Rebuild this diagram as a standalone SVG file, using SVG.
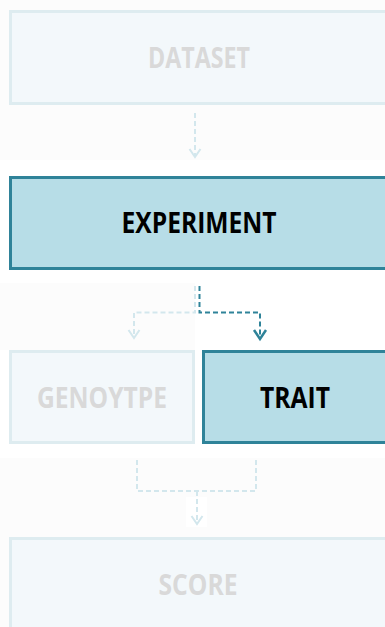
<svg xmlns="http://www.w3.org/2000/svg" width="385" height="627" viewBox="0 0 385 627">
  <defs>
    <style>
      .lbl { font-family: "Open Sans", Lato, "Liberation Sans", sans-serif; font-weight: 700; font-size: 28px; text-anchor: middle; }
      .box-dim { fill: #f3f8fb; stroke: #deecf0; stroke-width: 3; }
      .box-on { fill: #b7dde7; stroke: #2f8399; stroke-width: 3; }
      .txt-dim { fill: #d9d9d9; }
      .txt-on { fill: #000000; }
      .wire-dim { fill: none; stroke: #d3e7ed; stroke-width: 2; stroke-dasharray: 5 3; }
      .wire-on { fill: none; stroke: #2f8399; stroke-width: 2; stroke-dasharray: 5 3; }
      .head-dim { fill: none; stroke: #d3e7ed; stroke-width: 2; }
      .head-on { fill: none; stroke: #2f8399; stroke-width: 2.5; }
      .haze { fill: #fcfcfc; }
    </style>
  </defs>

  <!-- page and faded backdrop bands -->
  <rect x="0" y="0" width="385" height="627" fill="#ffffff"/>
  <rect class="haze" x="0" y="0" width="385" height="160"/>
  <rect class="haze" x="0" y="283" width="195" height="67"/>
  <rect class="haze" x="0" y="458" width="385" height="169"/>
  <rect x="186" y="497" width="21" height="30" fill="#ffffff"/>

  <!-- connectors -->
  <g id="connectors">
    <!-- dataset -> experiment -->
    <path class="wire-dim" d="M195 113 V156"/>
    <path class="head-dim" d="M189.5 149 L195 157 L200.5 149"/>
    <!-- experiment -> genotype -->
    <path class="wire-dim" d="M195 286 V312.5 H134 V337"/>
    <path class="head-dim" d="M128.5 330 L134 338 L139.5 330"/>
    <!-- experiment -> trait -->
    <path class="wire-on" d="M199.5 286 V312.5 H260 V337"/>
    <path class="head-on" d="M254 330 L260 339 L266 330"/>
    <!-- genotype + trait -> score -->
    <path class="wire-dim" d="M137 460 V491 H256 V460"/>
    <path class="wire-dim" d="M197 491 V523"/>
    <path class="head-dim" d="M191.5 516 L197 524 L202.5 516"/>
  </g>

  <g id="dataset">
    <rect class="box-dim" x="10.5" y="11.5" width="390" height="92"/>
    <text class="lbl txt-dim" x="199" y="68" textLength="102" lengthAdjust="spacingAndGlyphs">DATASET</text>
  </g>

  <g id="experiment">
    <rect class="box-on" x="10.5" y="177.5" width="390" height="91"/>
    <text class="lbl txt-on" x="199" y="233" textLength="155" lengthAdjust="spacingAndGlyphs">EXPERIMENT</text>
  </g>

  <g id="genotype">
    <rect class="box-dim" x="10.5" y="351.5" width="183" height="91"/>
    <text class="lbl txt-dim" x="102" y="408" textLength="130" lengthAdjust="spacingAndGlyphs">GENOYTPE</text>
  </g>

  <g id="trait">
    <rect class="box-on" x="203.5" y="351.5" width="200" height="91"/>
    <text class="lbl txt-on" x="295" y="408" textLength="70" lengthAdjust="spacingAndGlyphs">TRAIT</text>
  </g>

  <g id="score">
    <rect class="box-dim" x="10.5" y="538.5" width="390" height="100"/>
    <text class="lbl txt-dim" x="198" y="595" textLength="79" lengthAdjust="spacingAndGlyphs">SCORE</text>
  </g>
</svg>
